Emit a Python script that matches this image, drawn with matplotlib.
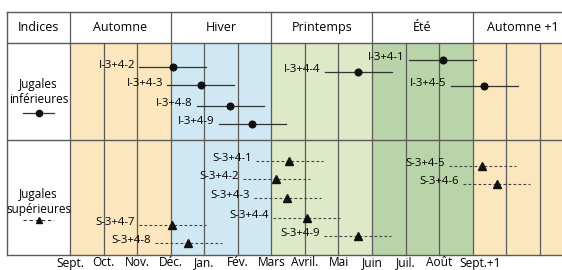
import matplotlib.pyplot as plt
import numpy as np

plt.rcParams["font.family"] = ["Open Sans", "DejaVu Sans"]

# months counted from start of September (0) ; 15 months shown (cropped at right)
months = ["Sept.", "Oct.", "Nov.", "Déc.", "Jan.", "Fév.", "Mars", "Avril.",
          "Mai", "Juin", "Juil.", "Août", "Sept.+1"]
seasons = ["Automne", "Hiver", "Printemps", "Été", "Automne +1"]
season_start = [0, 3, 6, 9, 12]
season_colors = ["#fce6bd", "#d0e8f3", "#dde9c7", "#b9d4a8", "#fce6bd"]

# lower jugals: label, centre month, vertical level
inf_labels = ["I-3+4-2", "I-3+4-3", "I-3+4-8", "I-3+4-9", "I-3+4-4", "I-3+4-1", "I-3+4-5"]
inf_month = [3.06, 3.90, 4.77, 5.43, 8.59, 11.10, 12.34]
inf_level = [67, 85, 106, 124, 72, 60, 86]

# upper jugals
sup_labels = ["S-3+4-1", "S-3+4-2", "S-3+4-3", "S-3+4-4", "S-3+4-9",
              "S-3+4-5", "S-3+4-6", "S-3+4-7", "S-3+4-8"]
sup_month = [6.54, 6.14, 6.48, 7.05, 8.57, 12.29, 12.71, 3.05, 3.52]
sup_level = [161, 179, 198, 218, 236, 166, 184, 225, 243]

spread = 1.0  # +/- one month

# table geometry (month units horizontally, pixel-like units vertically)
x_left, x_right = -1.877, 15
y_top, y_head, y_mid, y_bot = 12, 43, 139.5, 255
grid_c = "#5a5a5a"

fig = plt.figure(figsize=(5.62, 2.70), dpi=100)
ax = fig.add_axes([0, 0, 1, 1])
ax.set_xlim(-2.086, 14.66)
ax.set_ylim(270, 0)
ax.axis("off")

for s0, c in zip(season_start, season_colors):
    ax.fill_between([s0, s0 + 3], y_head, y_bot, color=c, lw=0, zorder=0)

for m in range(0, 16):
    top = y_top if m % 3 == 0 else y_head
    ax.plot([m, m], [top, y_bot], color=grid_c, lw=0.9, zorder=1)
ax.plot([x_left, x_left], [y_top, y_bot], color=grid_c, lw=1.0, zorder=1)
for y in [y_top, y_head, y_mid, y_bot]:
    ax.plot([x_left, x_right], [y, y], color=grid_c, lw=1.0, zorder=1)

# header
ax.text((x_left + 0) / 2, (y_top + y_head) / 2, "Indices", ha="center", va="center", fontsize=9)
for s0, name in zip(season_start, seasons):
    ax.text(s0 + 1.5, (y_top + y_head) / 2, name, ha="center", va="center", fontsize=9)

# row headers with legend symbols
xc = (x_left + 0) / 2
ax.text(xc, 92, "Jugales\ninférieures", ha="center", va="center", fontsize=8.5, linespacing=1.2)
ax.plot([xc - 0.45, xc + 0.45], [112.5, 112.5], color="#333333", lw=0.9)
ax.plot([xc], [112.5], "o", color="#111111", ms=4.5)
ax.text(xc, 202, "Jugales\nsupérieures", ha="center", va="center", fontsize=8.5, linespacing=1.2)
ax.plot([xc - 0.45, xc + 0.45], [220, 220], color="#333333", lw=0.8, ls=(0, (3, 2.5)))
ax.plot([xc], [219.5], "^", color="#111111", ms=5)

gap = 0.12
for lab, m, y in zip(inf_labels, inf_month, inf_level):
    ax.plot([m - spread, m + spread], [y, y], color="#333333", lw=0.9, zorder=2)
    ax.plot([m], [y], "o", color="#111111", ms=4.8, zorder=3)
    ax.text(m - spread - gap, y - 2, lab, ha="right", va="center", fontsize=8.2, zorder=4)

for lab, m, y in zip(sup_labels, sup_month, sup_level):
    ax.plot([m - spread, m + spread], [y, y], color="#444444", lw=0.8, ls=(0, (2.5, 2)), zorder=2)
    ax.plot([m], [y - 0.5], "^", color="#111111", ms=5.5, zorder=3)
    ax.text(m - spread - gap, y - 2.5, lab, ha="right", va="center", fontsize=8.2, zorder=4)

# month labels under the table
for i, name in enumerate(months):
    if name == "Sept.+1":
        ax.text(i - 0.4, 263, name, ha="left", va="center", fontsize=8.6)
    else:
        ax.text(i, 263, name, ha="center", va="center", fontsize=8.6)

fig.savefig("out.png", dpi=100)
